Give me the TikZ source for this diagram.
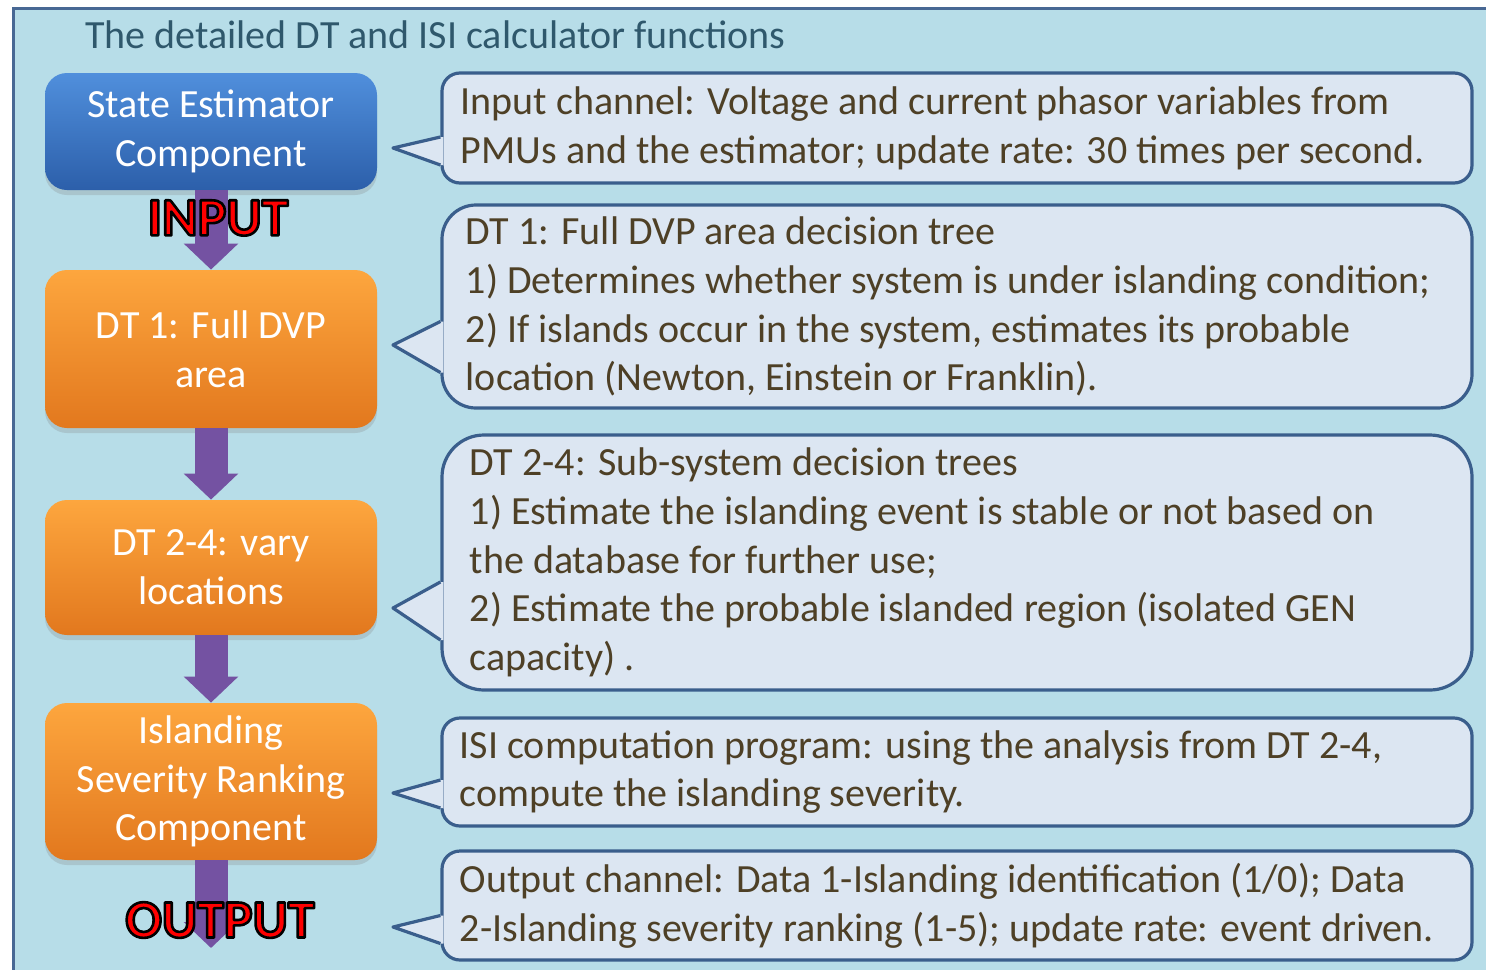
\documentclass[tikz,border=0pt]{standalone}
\usepackage{fontspec}
\setmainfont{Carlito}
\usetikzlibrary{arrows.meta,calc,shadows}

% red letters with a black rim (fill + stroke text mode)
\newcommand{\rimtext}[1]{\special{pdf:literal direct 0 0 0 RG 1.3 w 1 j 2 Tr}#1\special{pdf:literal direct 0 Tr}}

\begin{document}
\begin{tikzpicture}[x=0.5pt,y=0.5pt,yscale=-1,xscale=1,
  compbox/.style={rounded corners=11pt, minimum width=166pt, text=white, align=center,
    font=\fontsize{20}{24.4}\selectfont,
    drop shadow={opacity=0.25, shadow xshift=0pt, shadow yshift=-2.5pt}},
  bluebox/.style={compbox, top color={rgb,255:red,80;green,143;blue,220}, bottom color={rgb,255:red,44;green,95;blue,170}},
  orangebox/.style={compbox, top color={rgb,255:red,253;green,166;blue,62}, bottom color={rgb,255:red,226;green,120;blue,30}},
  coframe/.style={draw={rgb,255:red,58;green,94;blue,140}, line width=1.6pt, fill={rgb,255:red,220;green,230;blue,242}, minimum width=515pt},
  cotext/.style={anchor=west, align=left, inner sep=0pt, text={rgb,255:red,78;green,64;blue,38}, font=\fontsize{20}{24.4}\selectfont},
  cowedge/.style={fill={rgb,255:red,220;green,230;blue,242}},
  coedge/.style={draw={rgb,255:red,58;green,94;blue,140}, line width=1.6pt, line join=round},
  flow/.style={draw={rgb,255:red,116;green,82;blue,162}, line width=16.5pt, -{Triangle[width=26.5pt,length=13pt]}},
  tag/.style={font=\fontsize{27}{30}\selectfont\bfseries, text=red}
]
\useasboundingbox (0,0) rectangle (1486,969);
\clip (0,0) rectangle (1486,969);

%Panel
\draw [draw={rgb,255:red,72;green,104;blue,148}, line width=1.5pt, fill={rgb,255:red,183;green,221;blue,232}] (13,8) rectangle (1500,990);
\node [anchor=west, inner sep=0pt, text={rgb,255:red,47;green,88;blue,108}, font=\fontsize{20}{24.4}\selectfont] (title) at (85,35) {The detailed DT and ISI calculator functions};

%Left column
\node [bluebox, minimum height=58.5pt] (se) at (211,131.5) {State Estimator\\Component};
\node [orangebox, minimum height=79pt] (dt1) at (211,349) {DT 1: Full DVP\\area};
\node [orangebox, minimum height=67.5pt] (dt24) at (211,567.5) {DT 2-4: vary\\locations};
\node [orangebox, minimum height=78.5pt] (isr) at (211,781.5) {Islanding\\Severity Ranking\\Component};
\coordinate (outend) at (211,948);

\draw [flow] (se) -- (dt1);
\draw [flow] (dt1) -- (dt24);
\draw [flow] (dt24) -- (isr);
\draw [flow] (isr) -- (outend);

%INPUT / OUTPUT
\node [tag] (inp) at (218,218) {\rimtext{INPUT}};
\node [tag] (outp) at (220,920) {\rimtext{OUTPUT}};

%Callout: input channel
\node [coframe, rounded corners=9pt, minimum height=55pt] (co1) at (957,128) {};
\fill [cowedge] ($(co1.west)+(3,9)$) -- ($(co1.west)+(0,9)$) -- (393,148) -- ($(co1.west)+(0,37)$) -- ($(co1.west)+(3,37)$) -- cycle;
\draw [coedge] ($(co1.west)+(0,9)$) -- (393,148) -- ($(co1.west)+(0,37)$);
\node [cotext] (co1t) at ($(co1.west)+(20,0)$) {Input channel: Voltage and current phasor variables from\\PMUs and the estimator; update rate: 30 times per second.};

%Callout: DT 1
\node [coframe, rounded corners=17pt, minimum height=101.5pt] (co2) at (957,306.5) {};
\fill [cowedge] ($(co2.west)+(3,15)$) -- ($(co2.west)+(0,15)$) -- (393,345) -- ($(co2.west)+(0,66)$) -- ($(co2.west)+(3,66)$) -- cycle;
\draw [coedge] ($(co2.west)+(0,15)$) -- (393,345) -- ($(co2.west)+(0,66)$);
\node [cotext] (co2t) at ($(co2.west)+(25,0)$) {DT 1: Full DVP area decision tree\\1) Determines whether system is under islanding condition;\\2) If islands occur in the system, estimates its probable\\location (Newton, Einstein or Franklin).};

%Callout: DT 2-4
\node [coframe, rounded corners=21pt, minimum height=127.5pt] (co3) at (957,562.5) {};
\fill [cowedge] ($(co3.west)+(3,19.5)$) -- ($(co3.west)+(0,19.5)$) -- (393,608) -- ($(co3.west)+(0,77.5)$) -- ($(co3.west)+(3,77.5)$) -- cycle;
\draw [coedge] ($(co3.west)+(0,19.5)$) -- (393,608) -- ($(co3.west)+(0,77.5)$);
\node [cotext] (co3t) at ($(co3.west)+(29,0)$) {DT 2-4: Sub-system decision trees\\1) Estimate the islanding event is stable or not based on\\the database for further use;\\2) Estimate the probable islanded region (isolated GEN\\capacity) .};

%Callout: ISI
\node [coframe, rounded corners=9pt, minimum height=54pt] (co4) at (957,772) {};
\fill [cowedge] ($(co4.west)+(3,8)$) -- ($(co4.west)+(0,8)$) -- (393,793) -- ($(co4.west)+(0,36)$) -- ($(co4.west)+(3,36)$) -- cycle;
\draw [coedge] ($(co4.west)+(0,8)$) -- (393,793) -- ($(co4.west)+(0,36)$);
\node [cotext] (co4t) at ($(co4.west)+(19,0)$) {ISI computation program: using the analysis from DT 2-4,\\compute the islanding severity.};

%Callout: output channel
\node [coframe, rounded corners=9pt, minimum height=54.5pt] (co5) at (957,905.5) {};
\fill [cowedge] ($(co5.west)+(3,10)$) -- ($(co5.west)+(0,10)$) -- (393,927) -- ($(co5.west)+(0,38)$) -- ($(co5.west)+(3,38)$) -- cycle;
\draw [coedge] ($(co5.west)+(0,10)$) -- (393,927) -- ($(co5.west)+(0,38)$);
\node [cotext] (co5t) at ($(co5.west)+(19,0)$) {Output channel: Data 1-Islanding identification (1/0); Data\\2-Islanding severity ranking (1-5); update rate: event driven.};

\end{tikzpicture}
\end{document}
